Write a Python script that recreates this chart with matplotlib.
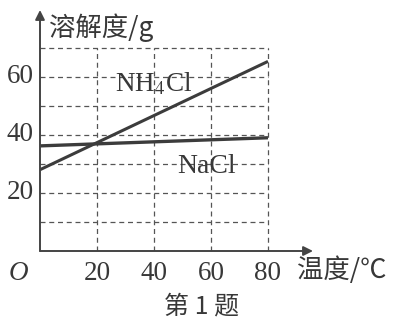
import matplotlib

matplotlib.use("Agg")
import matplotlib.pyplot as plt  # noqa: E402

plt.rcParams.update({
    "font.family": ["Liberation Serif", "Noto Sans CJK SC"],
    "mathtext.fontset": "stix",
    "font.size": 19.5,
})

# solubility data (g / 100 g water), straight-line approximations
temps = [0, 80]
nh4cl = [28.0, 65.3]
nacl = [36.2, 39.0]
x_ticks = [20, 40, 60, 80]
y_ticks = [20, 40, 60]
y_grid = [10, 20, 30, 40, 50, 60, 70]

W, H = 402, 324
fig = plt.figure(figsize=(W / 100, H / 100), dpi=100)
# axes spans pixel x 40..313, y 251..10
ax = fig.add_axes([40 / W, (H - 251) / H, (313 - 40) / W, (251 - 10) / H])
ax.set_xlim(0, 95.8)
ax.set_ylim(0, 83)
for s in ax.spines.values():
    s.set_visible(False)
ax.set_xticks([])
ax.set_yticks([])
ax.patch.set_alpha(0)

grid_kw = dict(color="#555555", lw=0.9, linestyles=(0, (4, 3)))
ax.hlines(y_grid, 0, 80, **grid_kw)
ax.vlines(x_ticks, 0, 70, **grid_kw)

# axes with arrows
arrow = dict(arrowstyle="-|>", color="#444444", lw=1.4,
             mutation_scale=14, shrinkA=0, shrinkB=0)
ax.annotate("", xy=(95.8, 0), xytext=(0, 0), arrowprops=arrow)
ax.annotate("", xy=(0, 83), xytext=(0, 0), arrowprops=arrow)

ax.plot(temps, nh4cl, color="#3c3c3c", lw=2.2, solid_capstyle="butt")
ax.plot(temps, nacl, color="#3c3c3c", lw=2.4, solid_capstyle="butt")

tc = "#383838"
for t in x_ticks:
    ax.text(t, -3.3, str(t), ha="center", va="top", color=tc)
for v in y_ticks:
    ax.text(-2.3, v, str(v), ha="right", va="center", color=tc)
ax.text(-7.5, -3.3, "O", ha="center", va="top", style="italic", color=tc)

ax.text(3.2, 77, "溶解度/g", ha="left", va="center", color=tc,
        family=["Noto Sans CJK SC"], fontsize=19)
ax.text(90.3, -6.5, "温度/℃", ha="left", va="center", color=tc,
        family=["Noto Sans CJK SC", "DejaVu Sans"], fontsize=19)

ax.text(40, 55, "NH$_4$Cl", ha="center", va="baseline", color=tc,
        fontsize=19.5)
ax.text(58.6, 27, "NaCl", ha="center", va="baseline", color=tc,
        fontsize=20)

fig.text(202 / W, 1 - 306 / H, "第 1 题", ha="center", va="center",
         color=tc, family=["Noto Sans CJK SC"], fontsize=18)

fig.savefig("out.png", dpi=100)
